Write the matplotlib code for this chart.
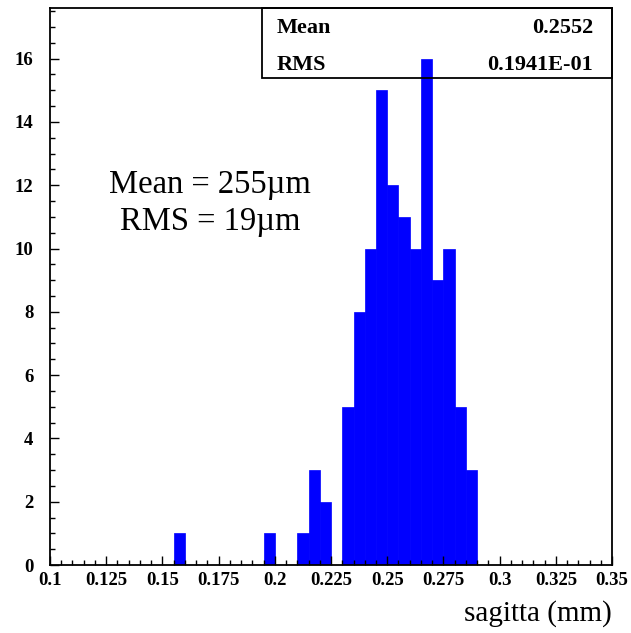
import numpy as np
import matplotlib
matplotlib.use('Agg')
import matplotlib.pyplot as plt
from matplotlib.patches import Rectangle
from matplotlib.ticker import MultipleLocator

# histogram contents (bin lower edges in mm, counts)
bin_lefts = [0.155, 0.195, 0.210, 0.215, 0.220, 0.230, 0.235, 0.240, 0.245,
             0.250, 0.255, 0.260, 0.265, 0.270, 0.275, 0.280, 0.285]
counts = [1, 1, 1, 3, 2, 5, 8, 10, 15, 12, 11, 10, 16, 9, 10, 5, 3]
bin_width = 0.005

xticks = [0.1, 0.125, 0.15, 0.175, 0.2, 0.225, 0.25, 0.275, 0.3, 0.325, 0.35]
xtick_labels = ['0.1', '0.125', '0.15', '0.175', '0.2', '0.225', '0.25',
                '0.275', '0.3', '0.325', '0.35']
yticks = [0, 2, 4, 6, 8, 10, 12, 14, 16]

stats_names = ['Mean', 'RMS']
stats_values = ['0.2552', '0.1941E-01']

serif = 'Liberation Serif'

fig = plt.figure(figsize=(6.31, 6.33), dpi=100)
ax = fig.add_axes([0.0792, 0.1074, 0.8908, 0.88])

ax.bar(bin_lefts, counts, width=bin_width, align='edge', color='#0000ff',
       edgecolor='#0000ff', linewidth=0.5)

ax.set_xlim(0.1, 0.35)
ax.set_ylim(0, 17.6)

ax.set_xticks(xticks)
ax.set_xticklabels(xtick_labels)
ax.set_yticks(yticks)
ax.xaxis.set_minor_locator(MultipleLocator(0.005))
ax.yaxis.set_minor_locator(MultipleLocator(0.5))
ax.tick_params(which='both', direction='in', top=False, right=False, width=1.0)
ax.tick_params(which='major', length=6.5)
ax.tick_params(which='minor', length=3.6)
for lab in ax.get_xticklabels() + ax.get_yticklabels():
    lab.set_fontfamily(serif)
    lab.set_fontweight('bold')
    lab.set_fontsize(13.5)
ax.tick_params(axis='x', pad=5)
ax.tick_params(axis='y', pad=12)

for s in ax.spines.values():
    s.set_linewidth(1.3)

ax.set_xlabel('sagitta (mm)', fontfamily=serif, fontsize=21, loc='right',
              labelpad=8)

# stats box
ax.add_patch(Rectangle((0.377, 0.874), 0.623, 0.126, transform=ax.transAxes,
                       fill=False, edgecolor='black', linewidth=1.3,
                       clip_on=False, zorder=5))
for i, (name, val) in enumerate(zip(stats_names, stats_values)):
    yy = 0.964 - i * 0.066
    ax.text(0.404, yy, name, transform=ax.transAxes, fontfamily=serif,
            fontweight='bold', fontsize=16, ha='left', va='center')
    ax.text(0.966, yy, val, transform=ax.transAxes, fontfamily=serif,
            fontweight='bold', fontsize=16, ha='right', va='center')

ax.text(0.285, 0.682, 'Mean = 255\u00b5m', transform=ax.transAxes,
        fontfamily=serif, fontsize=23.5, ha='center', va='center')
ax.text(0.285, 0.616, 'RMS = 19\u00b5m', transform=ax.transAxes,
        fontfamily=serif, fontsize=23.5, ha='center', va='center')

fig.savefig('out.png', dpi=100)
